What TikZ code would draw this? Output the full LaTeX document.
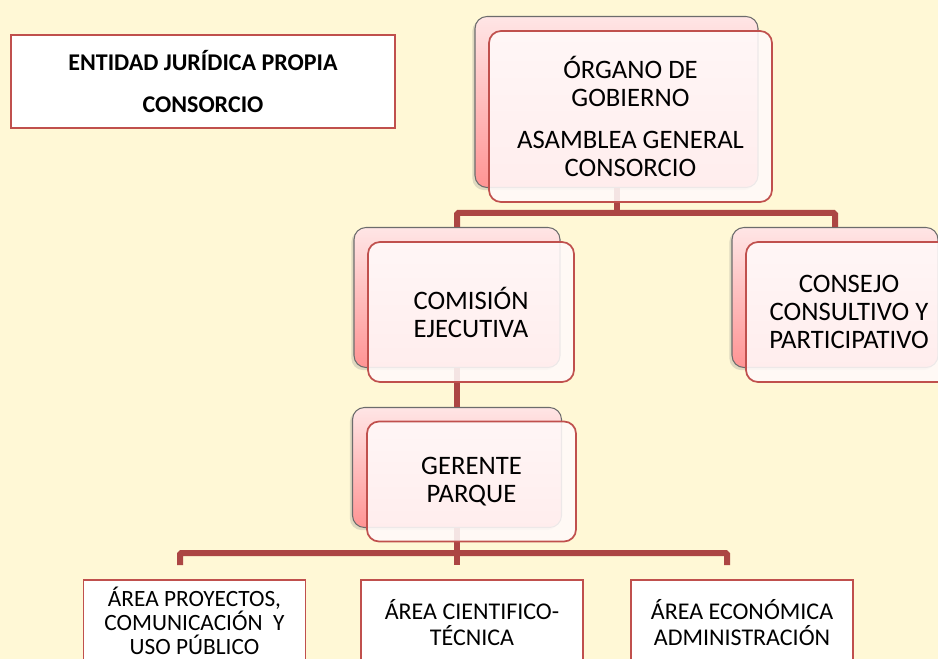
\documentclass[tikz,border=0pt]{standalone}
\usepackage{fontspec}
\setmainfont{Carlito}
\usepackage{xcolor}
\usetikzlibrary{positioning,shadows}
\definecolor{bgyellow}{RGB}{255,248,214}
\definecolor{boxred}{RGB}{192,80,77}
\definecolor{linered}{RGB}{172,70,68}
\tikzset{
  backbox/.style={rectangle,draw=gray!85!black,line width=.8pt,top color=red!10,bottom color=red!42,rounded corners=9pt,inner sep=0pt,drop shadow={shadow xshift=-2pt,shadow yshift=-2pt,opacity=.25}},
  frontbox/.style={rectangle,draw=boxred,line width=1.3pt,fill=red!2,fill opacity=.88,text opacity=1,rounded corners=9pt,inner sep=0pt,align=center,font=\fontsize{20}{21}\selectfont},
  areabox/.style={rectangle,draw=boxred,line width=1.3pt,fill=white,inner sep=0pt,minimum width=166.5pt,minimum height=63.75pt,align=center,font=\fontsize{18}{19.5}\selectfont},
  titlebox/.style={rectangle,draw=boxred,line width=1.3pt,fill=white,inner sep=0pt,minimum width=288pt,minimum height=69.75pt,align=center,font=\bfseries\fontsize{18}{32}\selectfont},
  big/.style={minimum width=212.25pt,minimum height=128.25pt},
  mid/.style={minimum width=154.5pt,minimum height=105pt},
  small/.style={minimum width=156.75pt,minimum height=90pt},
  conn/.style={line width=4.5pt,linered,rounded corners=1pt}
}
\begin{document}
\begin{tikzpicture}[x=0.75pt,y=-0.75pt]
  \clip (0,0) rectangle (938,659);
  \fill[bgyellow] (0,0) rectangle (938,659);
  % back cards
  \node[backbox,big] (organoB) at (616.5,102) {};
  \node[backbox,mid] (comisionB) at (457,297.5) {};
  \node[backbox,mid] (consejoB) at (835,297.5) {};
  \node[backbox,small] (gerenteB) at (457,467.5) {};
  % connectors
  \coordinate (j1) at (616.5,213);
  \coordinate (j2) at (457,553);
  \coordinate (eL) at (180,565);
  \coordinate (eC) at (457,565);
  \coordinate (eR) at (727,565);
  \draw[conn] (organoB.south) -- (j1);
  \draw[conn] (comisionB.north) |- (j1) -| (consejoB.north);
  \draw[conn] (comisionB.south) -- (gerenteB.north);
  \draw[conn] (gerenteB.south) -- (eC);
  \draw[conn] (eL) |- (j2) -| (eR);
  % front cards
  \node[frontbox,big] (organo) at (630.5,116.5) {ÓRGANO DE\\GOBIERNO\\[10pt]ASAMBLEA GENERAL\\CONSORCIO};
  \node[frontbox,mid] (comision) at (471,312) {COMISIÓN\\EJECUTIVA};
  \node[frontbox,mid] (consejo) at (849,312) {CONSEJO\\CONSULTIVO Y\\PARTICIPATIVO};
  \node[frontbox,small] (gerente) at (471.5,481.5) {GERENTE\\PARQUE};
  % title and areas
  \node[titlebox] (entidad) at (203,81.5) {ENTIDAD JURÍDICA PROPIA\\CONSORCIO};
  \node[areabox,minimum height=60.75pt,font=\fontsize{17.5}{18}\selectfont] (areaL) at (194.5,620.5) {ÁREA PROYECTOS,\\COMUNICACIÓN~~Y\\USO PÚBLICO};
  \node[areabox] (areaC) at (472,622.5) {ÁREA CIENTIFICO-\\TÉCNICA};
  \node[areabox] (areaR) at (742,622.5) {ÁREA ECONÓMICA\\ADMINISTRACIÓN};
\end{tikzpicture}
\end{document}
